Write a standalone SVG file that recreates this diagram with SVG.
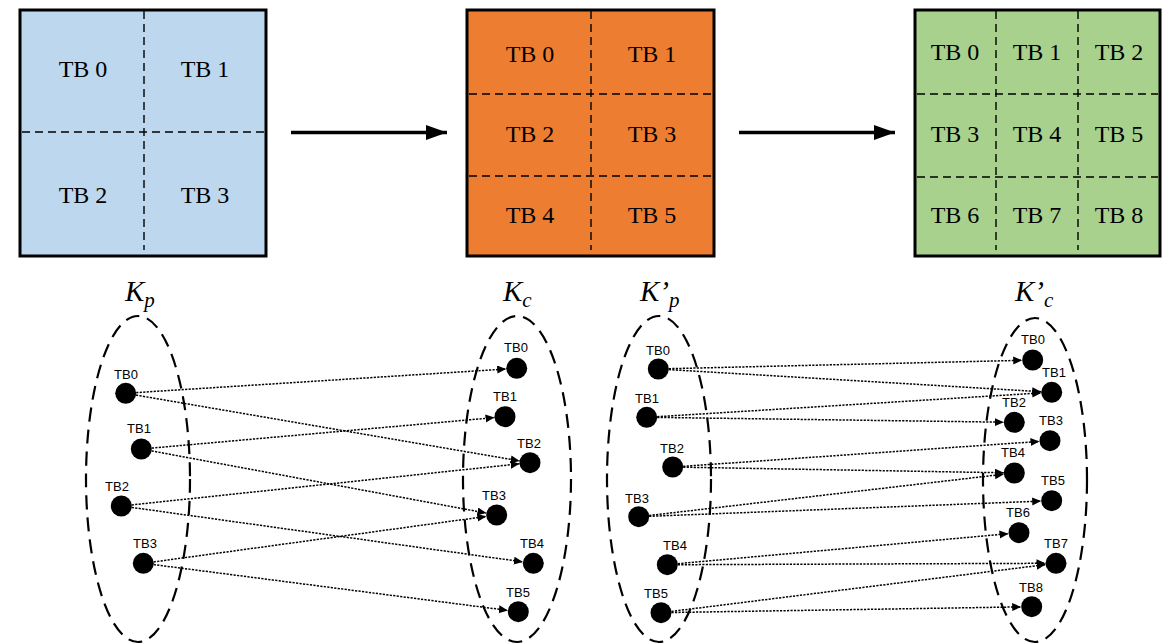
<svg xmlns="http://www.w3.org/2000/svg" width="1171" height="644" viewBox="0 0 1171 644">
  <defs>
    <style>
      .box { stroke: #000; stroke-width: 3; }
      .grid { stroke: #000; stroke-width: 1.4; stroke-dasharray: 8 5; fill: none; }
      .cell { font-family: "Liberation Serif", "Times New Roman", serif; font-size: 24px; fill: #000; text-anchor: middle; }
      .set { fill: none; stroke: #000; stroke-width: 2.2; stroke-dasharray: 14 8; }
      .setlabel { font-family: "Liberation Serif", "Times New Roman", serif; font-style: italic; font-size: 29px; fill: #000; }
      .sub { font-size: 21px; }
      .dot { fill: #000; }
      .tb { font-family: "Liberation Sans", Arial, sans-serif; font-size: 13px; fill: #000; text-anchor: middle; }
      .map { stroke: #000; stroke-width: 1.5; stroke-dasharray: 2.2 1.3; fill: none; marker-end: url(#tip); }
      .flow { stroke: #000; stroke-width: 3.5; fill: none; marker-end: url(#bigtip); }
    </style>
    <marker id="tip" markerUnits="userSpaceOnUse" markerWidth="10" markerHeight="9" refX="9" refY="4" orient="auto">
      <path d="M0,0 L9,4 L0,8 Z" fill="#000"/>
    </marker>
    <marker id="bigtip" markerUnits="userSpaceOnUse" markerWidth="22" markerHeight="16" refX="21" refY="7.5" orient="auto">
      <path d="M0,0 L21,7.5 L0,15 Z" fill="#000"/>
    </marker>
  </defs>

  <rect width="1171" height="644" fill="#fff"/>

  <!-- 2x2 grid of thread blocks -->
  <g id="grid-2x2">
    <rect class="box" x="20" y="10" width="246" height="246" fill="#BDD7EE"/>
    <line class="grid" x1="144" y1="11" x2="144" y2="250"/>
    <line class="grid" x1="22" y1="132" x2="264" y2="132"/>
    <text class="cell" x="83" y="77">TB 0</text>
    <text class="cell" x="205" y="77">TB 1</text>
    <text class="cell" x="83" y="203">TB 2</text>
    <text class="cell" x="205" y="203">TB 3</text>
  </g>

  <!-- 3x2 grid of thread blocks -->
  <g id="grid-3x2">
    <rect class="box" x="467" y="10" width="247" height="246" fill="#ED7D31"/>
    <line class="grid" x1="591" y1="11" x2="591" y2="250"/>
    <line class="grid" x1="469" y1="94" x2="712" y2="94"/>
    <line class="grid" x1="469" y1="176" x2="712" y2="176"/>
    <text class="cell" x="530" y="62">TB 0</text>
    <text class="cell" x="652" y="62">TB 1</text>
    <text class="cell" x="530" y="142">TB 2</text>
    <text class="cell" x="652" y="142">TB 3</text>
    <text class="cell" x="530" y="223">TB 4</text>
    <text class="cell" x="652" y="223">TB 5</text>
  </g>

  <!-- 3x3 grid of thread blocks -->
  <g id="grid-3x3">
    <rect class="box" x="915" y="10" width="245" height="246" fill="#A9D18E"/>
    <line class="grid" x1="996" y1="11" x2="996" y2="250"/>
    <line class="grid" x1="1078" y1="11" x2="1078" y2="250"/>
    <line class="grid" x1="917" y1="94" x2="1158" y2="94"/>
    <line class="grid" x1="917" y1="177" x2="1158" y2="177"/>
    <text class="cell" x="955" y="60">TB 0</text>
    <text class="cell" x="1037" y="60">TB 1</text>
    <text class="cell" x="1119" y="60">TB 2</text>
    <text class="cell" x="955" y="142">TB 3</text>
    <text class="cell" x="1037" y="142">TB 4</text>
    <text class="cell" x="1119" y="142">TB 5</text>
    <text class="cell" x="955" y="223">TB 6</text>
    <text class="cell" x="1037" y="223">TB 7</text>
    <text class="cell" x="1119" y="223">TB 8</text>
  </g>

  <!-- sets of thread blocks -->
  <g id="set-Kp">
    <ellipse class="set" cx="138" cy="479" rx="52" ry="163"/>
    <text class="setlabel" x="125" y="301">K<tspan class="sub" dy="6">p</tspan></text>
  </g>
  <g id="set-Kc">
    <ellipse class="set" cx="517" cy="479" rx="54" ry="163"/>
    <text class="setlabel" x="503" y="301">K<tspan class="sub" dy="6">c</tspan></text>
  </g>
  <g id="set-Kp2">
    <ellipse class="set" cx="659" cy="479" rx="52" ry="163"/>
    <text class="setlabel" x="640" y="301">K’<tspan class="sub" dy="6">p</tspan></text>
  </g>
  <g id="set-Kc2">
    <ellipse class="set" cx="1035" cy="480" rx="52" ry="162"/>
    <text class="setlabel" x="1015" y="301">K’<tspan class="sub" dy="6">c</tspan></text>
  </g>

  <!-- connectors -->
  <g id="connectors">
    <line class="flow" x1="291" y1="132.5" x2="447" y2="132.5"/>
    <line class="flow" x1="739" y1="132.5" x2="895" y2="132.5"/>

    <line class="map" x1="136.2" y1="392.6" x2="506.2" y2="369.0"/>
    <line class="map" x1="136.0" y1="395.1" x2="519.7" y2="460.9"/>
    <line class="map" x1="151.8" y1="448.1" x2="494.5" y2="417.6"/>
    <line class="map" x1="151.6" y1="450.9" x2="486.4" y2="513.1"/>
    <line class="map" x1="131.7" y1="504.9" x2="519.6" y2="463.8"/>
    <line class="map" x1="131.7" y1="507.4" x2="522.9" y2="561.9"/>
    <line class="map" x1="153.7" y1="561.9" x2="486.3" y2="516.4"/>
    <line class="map" x1="153.7" y1="564.6" x2="507.9" y2="610.4"/>

    <line class="map" x1="668.8" y1="368.7" x2="1022.2" y2="360.3"/>
    <line class="map" x1="668.8" y1="369.6" x2="1041.2" y2="391.7"/>
    <line class="map" x1="657.2" y1="416.7" x2="1041.2" y2="392.9"/>
    <line class="map" x1="657.2" y1="417.4" x2="1003.8" y2="422.2"/>
    <line class="map" x1="683.2" y1="466.3" x2="1039.5" y2="441.4"/>
    <line class="map" x1="683.2" y1="467.2" x2="1003.8" y2="472.8"/>
    <line class="map" x1="649.1" y1="515.5" x2="1003.9" y2="474.2"/>
    <line class="map" x1="649.2" y1="516.3" x2="1041.2" y2="501.1"/>
    <line class="map" x1="677.8" y1="563.7" x2="1008.5" y2="533.7"/>
    <line class="map" x1="677.8" y1="564.7" x2="1045.5" y2="563.3"/>
    <line class="map" x1="671.4" y1="611.4" x2="1045.6" y2="564.6"/>
    <line class="map" x1="671.5" y1="612.5" x2="1021.2" y2="606.9"/>
  </g>

  <!-- Kp nodes -->
  <g id="kp-tb0"><circle class="dot" cx="125.7" cy="393.3" r="10.5"/><text class="tb" x="126" y="379">TB0</text></g>
  <g id="kp-tb1"><circle class="dot" cx="141.3" cy="449" r="10.5"/><text class="tb" x="139" y="433">TB1</text></g>
  <g id="kp-tb2"><circle class="dot" cx="121.3" cy="506" r="10.5"/><text class="tb" x="117" y="491">TB2</text></g>
  <g id="kp-tb3"><circle class="dot" cx="143.3" cy="563.3" r="10.5"/><text class="tb" x="145" y="548">TB3</text></g>

  <!-- Kc nodes -->
  <g id="kc-tb0"><circle class="dot" cx="516.7" cy="368.3" r="10.5"/><text class="tb" x="516" y="352">TB0</text></g>
  <g id="kc-tb1"><circle class="dot" cx="505" cy="416.7" r="10.5"/><text class="tb" x="505" y="401">TB1</text></g>
  <g id="kc-tb2"><circle class="dot" cx="530" cy="462.7" r="10.5"/><text class="tb" x="529" y="448">TB2</text></g>
  <g id="kc-tb3"><circle class="dot" cx="496.7" cy="515" r="10.5"/><text class="tb" x="494" y="500">TB3</text></g>
  <g id="kc-tb4"><circle class="dot" cx="533.3" cy="563.3" r="10.5"/><text class="tb" x="532" y="548">TB4</text></g>
  <g id="kc-tb5"><circle class="dot" cx="518.3" cy="611.7" r="10.5"/><text class="tb" x="518" y="597">TB5</text></g>

  <!-- K'p nodes -->
  <g id="kp2-tb0"><circle class="dot" cx="658.3" cy="369" r="10.5"/><text class="tb" x="658" y="355">TB0</text></g>
  <g id="kp2-tb1"><circle class="dot" cx="646.7" cy="417.3" r="10.5"/><text class="tb" x="647" y="403">TB1</text></g>
  <g id="kp2-tb2"><circle class="dot" cx="672.7" cy="467" r="10.5"/><text class="tb" x="672" y="453">TB2</text></g>
  <g id="kp2-tb3"><circle class="dot" cx="638.7" cy="516.7" r="10.5"/><text class="tb" x="637" y="503">TB3</text></g>
  <g id="kp2-tb4"><circle class="dot" cx="667.3" cy="564.7" r="10.5"/><text class="tb" x="675" y="550">TB4</text></g>
  <g id="kp2-tb5"><circle class="dot" cx="661" cy="612.7" r="10.5"/><text class="tb" x="656" y="598">TB5</text></g>

  <!-- K'c nodes -->
  <g id="kc2-tb0"><circle class="dot" cx="1032.7" cy="360" r="10.5"/><text class="tb" x="1033" y="344">TB0</text></g>
  <g id="kc2-tb1"><circle class="dot" cx="1051.7" cy="392.3" r="10.5"/><text class="tb" x="1054" y="377">TB1</text></g>
  <g id="kc2-tb2"><circle class="dot" cx="1014.3" cy="422.3" r="10.5"/><text class="tb" x="1014" y="407">TB2</text></g>
  <g id="kc2-tb3"><circle class="dot" cx="1050" cy="440.7" r="10.5"/><text class="tb" x="1051" y="425">TB3</text></g>
  <g id="kc2-tb4"><circle class="dot" cx="1014.3" cy="473" r="10.5"/><text class="tb" x="1013" y="457">TB4</text></g>
  <g id="kc2-tb5"><circle class="dot" cx="1051.7" cy="500.7" r="10.5"/><text class="tb" x="1053" y="485">TB5</text></g>
  <g id="kc2-tb6"><circle class="dot" cx="1019" cy="532.7" r="10.5"/><text class="tb" x="1018" y="517">TB6</text></g>
  <g id="kc2-tb7"><circle class="dot" cx="1056" cy="563.3" r="10.5"/><text class="tb" x="1056" y="548">TB7</text></g>
  <g id="kc2-tb8"><circle class="dot" cx="1031.7" cy="606.7" r="10.5"/><text class="tb" x="1031" y="592">TB8</text></g>
</svg>
